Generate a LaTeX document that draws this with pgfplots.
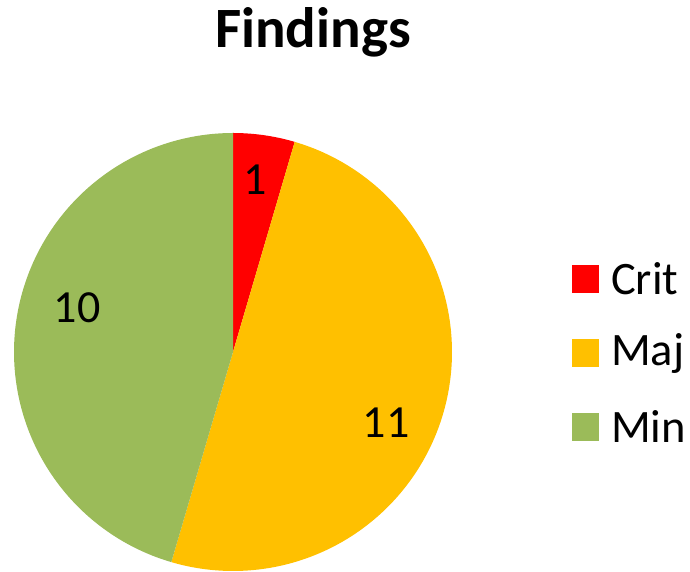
\documentclass[border=0pt]{standalone}
\usepackage{pgfplots}
\pgfplotsset{compat=1.18}
\usepackage{pgfplotstable}
\usepackage{fontspec}
\setmainfont{Carlito}
\definecolor{cCrit}{HTML}{FF0000}
\definecolor{cMaj}{HTML}{FFC000}
\definecolor{cMin}{HTML}{9BBB59}
\pgfplotstableread{
name value
Crit 1
Maj 11
Min 10
}\findings
\begin{document}
\begin{tikzpicture}
\pgfplotstablegetelem{0}{value}\of\findings \let\vA\pgfplotsretval
\pgfplotstablegetelem{1}{value}\of\findings \let\vB\pgfplotsretval
\pgfplotstablegetelem{2}{value}\of\findings \let\vC\pgfplotsretval
\pgfmathsetmacro{\tot}{\vA+\vB+\vC}
\pgfmathsetmacro{\aO}{90}
\pgfmathsetmacro{\aA}{90-360*\vA/\tot}
\pgfmathsetmacro{\aB}{\aA-360*\vB/\tot}
\pgfmathsetmacro{\aC}{\aB-360*\vC/\tot}
\begin{scope}[overlay]
\begin{axis}[
  x=1bp, y=1bp,
  xmin=0, xmax=690, ymin=0, ymax=572,
  hide axis, clip=false,
]
\coordinate (BL) at (axis cs:0,0);
\coordinate (TR) at (axis cs:690,572);
\def\cx{233}\def\cy{220}\def\r{219}
\addplot[fill=cCrit, draw=none, domain=\aO:\aA, samples=40, variable=\t]
  ({\cx+\r*cos(\t)}, {\cy+\r*sin(\t)}) -- (axis cs:\cx,\cy) -- cycle;
\addplot[fill=cMaj, draw=none, domain=\aA:\aB, samples=180, variable=\t]
  ({\cx+\r*cos(\t)}, {\cy+\r*sin(\t)}) -- (axis cs:\cx,\cy) -- cycle;
\addplot[fill=cMin, draw=none, domain=\aB:\aC, samples=180, variable=\t]
  ({\cx+\r*cos(\t)}, {\cy+\r*sin(\t)}) -- (axis cs:\cx,\cy) -- cycle;
% data labels
\node[font=\fontsize{46bp}{50bp}\selectfont] at (axis cs:255,392) {\vA};
\node[font=\fontsize{46bp}{50bp}\selectfont] at (axis cs:386,149) {\vB};
\node[font=\fontsize{46bp}{50bp}\selectfont] at (axis cs:77,264) {\vC};
% title
\node[font=\bfseries\fontsize{57bp}{62bp}\selectfont] at (axis cs:313,540) {Findings};
% legend
\fill[cCrit] (axis cs:572,279) rectangle (axis cs:599,307);
\fill[cMaj] (axis cs:572,205) rectangle (axis cs:599,233);
\fill[cMin] (axis cs:572,131) rectangle (axis cs:599,159);
\node[anchor=west, inner sep=0pt, font=\fontsize{46.5bp}{50bp}\selectfont] at (axis cs:611,293) {Crit};
\node[anchor=west, inner sep=0pt, font=\fontsize{46.5bp}{50bp}\selectfont] at (axis cs:611,219) {Maj};
\node[anchor=west, inner sep=0pt, font=\fontsize{46.5bp}{50bp}\selectfont] at (axis cs:611,145) {Min};
\end{axis}
\end{scope}
\path (BL) rectangle (TR);
\end{tikzpicture}
\end{document}
